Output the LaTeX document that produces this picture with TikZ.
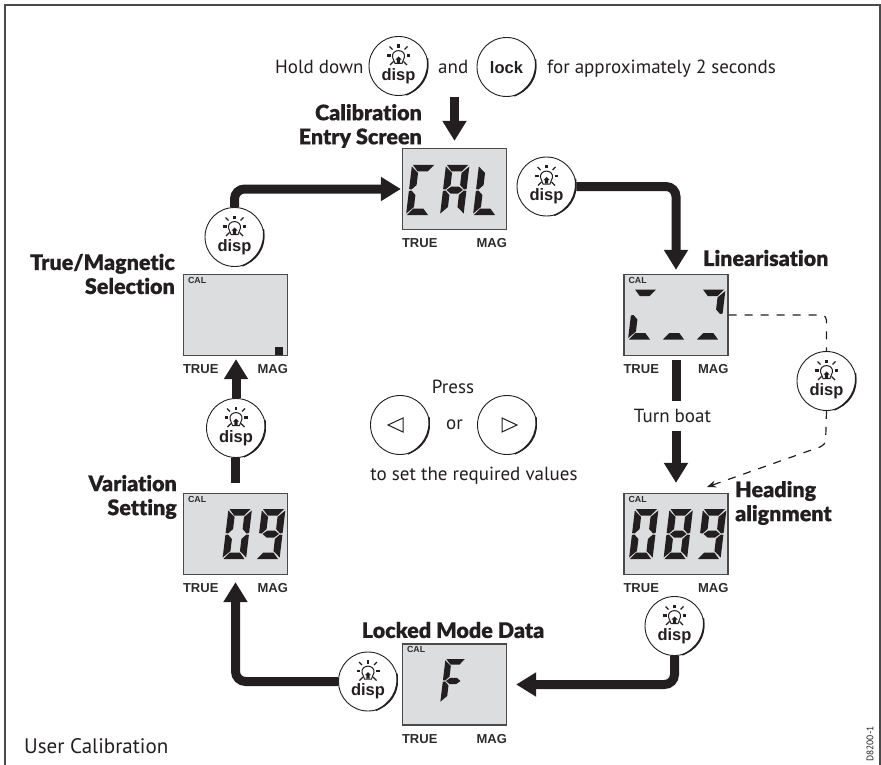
\documentclass[tikz,border=0pt]{standalone}
\usepackage{fontspec}
\setmainfont{PT Sans}
\newfontfamily\headfont{Lato}[UprightFont=* Black,Ligatures=NoCommon,FakeBold=.3]
\newfontfamily\keyfont{Liberation Sans}[UprightFont=* Bold]
\usetikzlibrary{arrows.meta}

\definecolor{lcdgray}{HTML}{DCDDDE}
\definecolor{inkblack}{HTML}{231F20}
\definecolor{framegray}{HTML}{4A4A4A}

% the seven bars of one display digit
\def\sega{(1,0) -- (22,0) -- (16.5,6.5) -- (6.5,6.5) -- cycle}
\def\segb{(23.5,1.5) -- (23.5,24) -- (21,24.5) -- (16.5,20) -- (16.5,8) -- cycle}
\def\segc{(23.5,26) -- (23.5,48.5) -- (16.5,42) -- (16.5,30) -- (21,25.5) -- cycle}
\def\segd{(1,50) -- (22,50) -- (16.5,43.5) -- (6.5,43.5) -- cycle}
\def\sege{(0,26) -- (2.5,25.5) -- (7,30) -- (7,42) -- (0,48.5) -- cycle}
\def\segf{(0,1.5) -- (7,8) -- (7,20) -- (2.5,24.5) -- (0,24) -- cycle}
\def\segg{(3.5,25) -- (8,21.5) -- (15.5,21.5) -- (20,25) -- (15.5,28.5) -- (8,28.5) -- cycle}
\newcommand{\lcddigit}[4][]{%
	\begin{scope}[shift={(#2,#3)},#1,xslant=.12]
		\foreach \segname in {#4}
			\fill[inkblack] \csname seg\segname\endcsname;
	\end{scope}}

\begin{document}
\begin{tikzpicture}[x=1pt,y=-1pt]
	\tikzstyle{lcd}=[draw=framegray,fill=lcdgray,line width=1.3pt,minimum width=104pt,minimum height=81pt,inner sep=0pt]
	\tikzstyle{lcdtag}=[font=\keyfont\fontsize{13}{15}\selectfont,text=framegray!60!black,inner sep=0pt]
	\tikzstyle{caltag}=[font=\keyfont\fontsize{8.8}{10}\selectfont,text=framegray!60!black,inner sep=0pt,anchor=north west]
	\tikzstyle{btn}=[circle,draw=inkblack,fill=white,line width=.9pt,minimum size=59pt,inner sep=0pt]
	\tikzstyle{keytext}=[font=\keyfont\fontsize{16.5}{18}\selectfont,text=inkblack,inner sep=0pt]
	\tikzstyle{plaintxt}=[font=\fontsize{19}{23}\selectfont,text=inkblack,inner sep=0pt]
	\tikzstyle{headtxt}=[font=\headfont\fontsize{21.5}{24}\selectfont,text=inkblack,inner sep=0pt]
	\tikzstyle{flow}=[draw=inkblack,line width=9pt,rounded corners=10pt,-{Triangle[length=20pt,width=23pt]}]
	\tikzstyle{shaft}=[draw=inkblack,line width=9pt]
	\tikzstyle{dashline}=[draw=inkblack,line width=1.2pt,dash pattern=on 8pt off 8pt,rounded corners=5pt]
	\tikzset{bulb/.pic={
		\foreach \xa in {-1,1} {
			\draw[inkblack,line width=2.2pt] (\xa*8,-1) -- (\xa*11.5,-1);
			\draw[inkblack,line width=1.2pt] (\xa*6,-7) -- (\xa*9,-10);
			\draw[inkblack,line width=1.2pt] (\xa*5,5) -- (\xa*8.5,8.5);
		}
		\draw[inkblack,line width=2.2pt] (0,-8.5) -- (0,-12);
		\draw[inkblack,line width=1pt,fill=white] (-3.5,7) -- (-6,.5) .. controls (-7,-8) and (7,-8) .. (6,.5) -- (3.5,7) -- cycle;
		\fill[inkblack] (0,0) -- (3.2,3.2) -- (1.6,3.2) -- (1.6,6.5) -- (-1.6,6.5) -- (-1.6,3.2) -- (-3.2,3.2) -- cycle;
	}}

	\useasboundingbox (0,0) rectangle (881,765);
	\coordinate (fa) at (5,765);
	\coordinate (fb) at (5,5);
	\coordinate (fc) at (880,5);
	\coordinate (fd) at (880,765);
	\draw[framegray,line width=1.2pt] (fa) -- (fb) -- (fc) -- (fd);

	% screens
	\foreach \name / \x / \y in {cal/454.5/189,lin/676/315,hdg/676/534,lck/454.5/684.5,var/235.5/534,tm/235.5/315} {
		\node[lcd] (\name) at (\x,\y) {};
		\node[lcdtag,anchor=west] (\name-true) at ([yshift=-13pt]\name.south west) {TRUE};
		\node[lcdtag,anchor=east] (\name-mag) at ([yshift=-13pt]\name.south east) {MAG};
	}
	\foreach \name in {lin,hdg,lck,var,tm}
		\node[caltag] (\name-cal) at ([xshift=5pt,yshift=-3pt]\name.north west) {CAL};

	% digits
	\lcddigit{412}{165}{a,f,e,d}
	\lcddigit{446}{165}{a,b,c,e,f,g}
	\lcddigit{479}{165}{f,e,d}
	\lcddigit{634}{289.5}{a,e,d}
	\lcddigit{668}{289.5}{d}
	\lcddigit{702}{289.5}{a,b,d}
	\lcddigit{635}{509}{a,b,c,d,e,f}
	\lcddigit{669.5}{509}{a,b,c,d,e,f,g}
	\lcddigit{703}{509}{a,b,c,d,f,g}
	\lcddigit[scale=.88]{445.5}{659}{a,f,g,e}
	\lcddigit{228.5}{509}{a,b,c,d,e,f}
	\lcddigit{262}{509}{a,b,c,d,f,g}
	\fill[inkblack] (275,347) rectangle (283,355);

	% disp buttons
	\foreach \name / \x / \y in {dtop/398.5/66,dcal/546.5/186.5,dlin/826.5/381,dhdg/674.5/626,dlck/368/681.5,dvar/236/428,dtm/234.5/237} {
		\node[btn] (\name) at (\x,\y) {};
		\draw[inkblack,line width=1.5pt] (\name.-75) to[bend right=37] (\name.15);
		\pic at ([yshift=9.5pt]\name.center) {bulb};
		\node[keytext] (\name-t) at ([yshift=-10pt]\name.center) {disp};
	}
	\node[btn] (lockkey) at (506.5,67) {};
	\draw[inkblack,line width=1.5pt] (lockkey.-75) to[bend right=37] (lockkey.15);
	\node[keytext] (lockkey-t) at (506.5,68) {lock};
	\foreach \name / \x in {arrl/400,arrr/507} {
		\node[btn] (\name) at (\x,425) {};
		\draw[inkblack,line width=1.5pt] (\name.-75) to[bend right=37] (\name.15);
	}
	\draw[inkblack,line width=1pt,line join=miter] (403,418) -- (388,425) -- (403,432) -- cycle;
	\draw[inkblack,line width=1pt,line join=miter] (502,418) -- (517,425) -- (502,432) -- cycle;

	% texts
	\node[plaintxt,anchor=base west] (holdtxt) at (275,74) {Hold down};
	\node[plaintxt,anchor=base west] (andtxt) at (438,74) {and};
	\node[plaintxt,anchor=base west] (fortxt) at (547,74) {for approximately 2 seconds};
	\node[plaintxt,anchor=base] (presstxt) at (453,393) {Press};
	\node[plaintxt] (ortxt) at (454.5,425) {or};
	\node[plaintxt,anchor=base] (settxt) at (474,480) {to set the required values};
	\node[plaintxt,minimum height=30pt] (turn) at (672.5,416) {Turn boat};
	\node[plaintxt,anchor=base west,font=\fontsize{21}{24}\selectfont] (usertxt) at (24,753) {User Calibration};
	\node[font=\fontsize{9.5}{11}\selectfont,text=inkblack,rotate=90,inner sep=0pt] (refno) at (870,744) {D8200-1};

	\node[headtxt,align=right,anchor=east] (calhd) at (422,126) {Calibration\\Entry Screen};
	\node[headtxt,anchor=west] (linhd) at (703,258) {Linearisation};
	\node[headtxt,align=left,anchor=west] (hdghd) at (735,503) {Heading\\alignment};
	\node[headtxt] (lckhd) at (453,630) {Locked Mode Data};
	\node[headtxt,align=right,anchor=east] (tmhd) at (175,274) {True/Magnetic\\Selection};
	\node[headtxt,align=right,anchor=east] (varhd) at (177,497) {Variation\\Setting};

	% main loop
	\coordinate (entry) at (454.5,97);
	\path[flow,shorten >=7pt] (entry) -- (cal.north);
	\path[flow,shorten >=4pt] (dcal.east) -| (lin.north);
	\path[shaft,shorten <=4pt] (lin.south) -- (lin.south |- turn.north);
	\path[flow,shorten >=10pt] (lin.south |- turn.south) -- (hdg.north);
	\path[flow,shorten >=9pt] (dhdg.south) |- (lck.east);
	\path[flow,shorten >=7pt] (dlck.west) -| (var.south);
	\path[shaft,shorten <=10pt] (var.north) -- (var.north |- dvar.south);
	\path[flow,shorten >=3pt] (dvar.north) -- (dvar.north |- tm.south);
	\path[flow,shorten >=1pt] (dtm.north) |- (cal.west);

	% dashed short cut
	\coordinate (dashbend) at (825.5,445);
	\coordinate (dashend) at (707,487);
	\path[dashline] (lin.east) -| (dlin.north);
	\path[dashline,-{Stealth[length=9pt,width=7pt]}] (dlin.south) -- (dashbend) -- (dashend);
\end{tikzpicture}
\end{document}
